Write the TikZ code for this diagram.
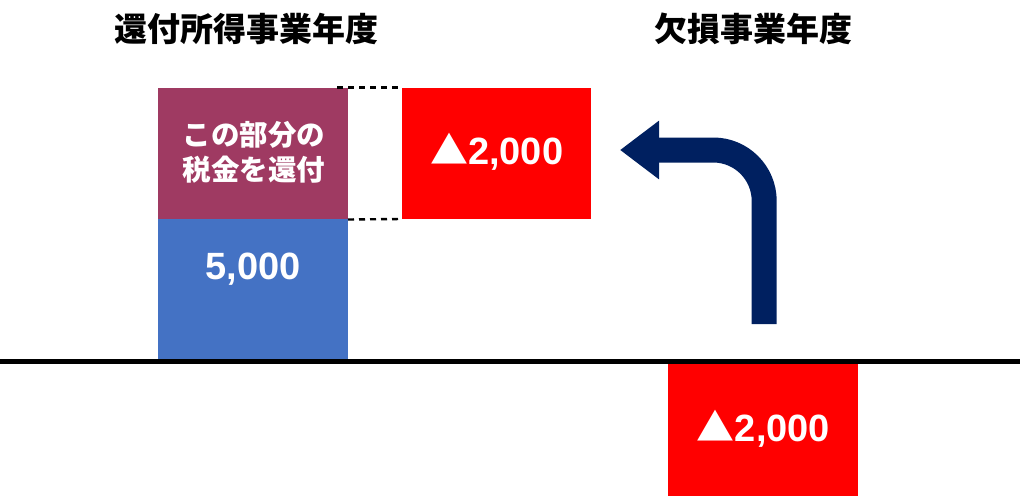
\documentclass[tikz,border=0pt]{standalone}
\usepackage{fontspec}
\setmainfont{Liberation Sans}
\newfontfamily\jp{Noto Sans CJK JP}
\usetikzlibrary{arrows.meta}
\definecolor{plum}{HTML}{9F3A62}
\definecolor{bluebox}{HTML}{4472C4}
\definecolor{navyarrow}{HTML}{002060}
\definecolor{redbox}{HTML}{FF0000}
\begin{document}
\begin{tikzpicture}[x=1pt,y=-1pt,
  box/.style={fill=#1, draw=none, inner sep=0pt, outer sep=0pt, minimum width=190pt},
  num/.style={text=white, inner sep=0pt, font=\fontsize{38}{40}\selectfont\bfseries, text height=27pt, text depth=0pt},
  title/.style={inner sep=0pt, font=\jp\bfseries\fontsize{33}{36}\selectfont},
  dashline/.style={draw=black, line width=2.4pt, dash pattern=on 6pt off 5pt},
  bigarrow/.style={draw=navyarrow, line width=25pt, rounded corners=51pt, -{Triangle[length=39pt,width=56pt]}}
]
\useasboundingbox (0,0) rectangle (1024,495);
% titles
\node[title] (t1) at (246.5,29) {還付所得事業年度};
\node[title] (t2) at (753,29) {欠損事業年度};
% boxes
\node[box=plum, minimum height=131pt] (purple) at (253,153.5) {};
\node[box=bluebox, minimum height=140pt] (blue) at (253,289) {};
\node[box=redbox, minimum width=189pt, minimum height=130.5pt] (redtop) at (496.5,153.25) {};
\node[box=redbox, minimum height=136pt] (redbot) at (763,432) {};
% texts
\node[text=white, inner sep=0pt, align=center, font=\jp\bfseries\fontsize{28.5}{35}\selectfont] (ptext) at (254,152.5) {この部分の\\税金を還付};
\node[num] (btext) at (253,266.4) {5,000};
\node[num] (rtext) at (496.7,151.3) {{\jp ▲}2,000};
\node[num] (rbtext) at (763.5,427.5) {{\jp ▲}2,000};
% axis line
\coordinate (axl) at (0,361.5);
\coordinate (axr) at (1020,361.5);
\draw[line width=5.5pt] (axl) -- (axr);
% dashed guides
\draw[dashline] ([xshift=-11pt,yshift=0.5pt]purple.north east) -- ([yshift=0.5pt]redtop.north west);
\draw[dashline] ([yshift=-0.5pt]purple.south east) -- ([yshift=-0.5pt]redtop.south west);
% arrow
\coordinate (astart) at (764.2,324);
\coordinate (acorner) at (764.2,150);
\coordinate (aend) at (620,150);
\draw[bigarrow] (astart) -- (acorner) -- (aend);
\end{tikzpicture}
\end{document}
